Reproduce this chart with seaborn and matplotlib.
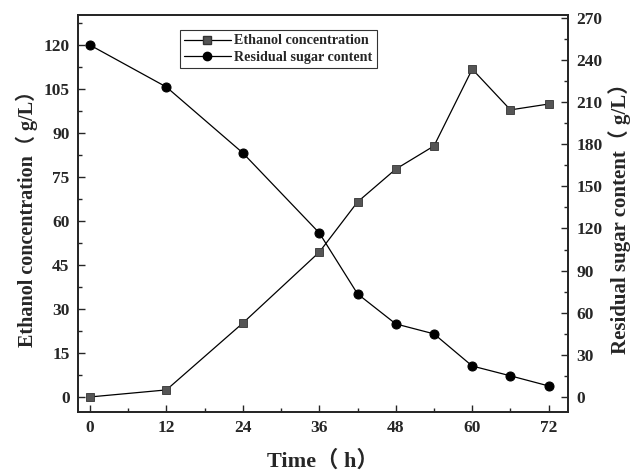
import numpy as np
import pandas as pd
import matplotlib
matplotlib.use("Agg")
import matplotlib.pyplot as plt
from matplotlib.ticker import MultipleLocator
from matplotlib.lines import Line2D
import seaborn as sns

# data
time_h = [0, 12, 24, 36, 42, 48, 54, 60, 66, 72]
ethanol = [0.0, 2.4, 25.2, 49.4, 66.5, 77.7, 85.6, 111.8, 97.9, 99.9]
sugar = [250.7, 220.8, 173.8, 116.8, 73.4, 52.0, 44.9, 22.0, 15.0, 7.8]

df = pd.DataFrame({"time": time_h, "ethanol": ethanol, "sugar": sugar})

sns.set_style("ticks")
plt.rcParams["font.family"] = ["Liberation Serif", "Noto Sans CJK SC", "DejaVu Sans"]
plt.rcParams["font.weight"] = "bold"
plt.rcParams["xtick.direction"] = "in"
plt.rcParams["ytick.direction"] = "in"

fig = plt.figure(figsize=(6.33, 4.74), dpi=100)
ax = fig.add_axes([0.123, 0.131, 0.774, 0.837])
ax2 = ax.twinx()

sns.lineplot(data=df, x="time", y="ethanol", ax=ax, color="black", lw=0.9,
             marker="s", markersize=5.5, markerfacecolor="#555555",
             markeredgecolor="#333333", markeredgewidth=0.6)
sns.lineplot(data=df, x="time", y="sugar", ax=ax2, color="black", lw=0.9,
             marker="o", markersize=6.5, markerfacecolor="black",
             markeredgecolor="black")

ax.set_xlim(-1.9, 75)
ax.set_ylim(-5.1, 130.2)
ax2.set_ylim(-10.7, 272)

ax.xaxis.set_major_locator(MultipleLocator(12))
ax.xaxis.set_minor_locator(MultipleLocator(6))
ax.yaxis.set_major_locator(MultipleLocator(15))
ax.yaxis.set_minor_locator(MultipleLocator(7.5))
ax2.yaxis.set_major_locator(MultipleLocator(30))
ax2.yaxis.set_minor_locator(MultipleLocator(15))

for a in (ax, ax2):
    a.tick_params(which="major", length=5, width=1, labelsize=12.5, pad=6)
    a.tick_params(which="minor", length=3, width=1)
    for s in a.spines.values():
        s.set_linewidth(1.3)
        s.set_visible(True)
    for lab in a.get_xticklabels() + a.get_yticklabels():
        lab.set_fontweight("bold")

ax.set_xlabel("Time（ h）", fontsize=16, fontweight="bold", labelpad=10)
ax.set_ylabel("Ethanol concentration（ g/L）", fontsize=14.5, fontweight="bold", labelpad=4)
ax2.set_ylabel("Residual sugar content（ g/L）", fontsize=15, fontweight="bold", labelpad=4)

handles = [
    Line2D([], [], color="black", lw=0.9, marker="s", markersize=5.5,
           markerfacecolor="#555555", markeredgecolor="#333333"),
    Line2D([], [], color="black", lw=0.9, marker="o", markersize=6,
           markerfacecolor="black"),
]
leg = ax.legend(handles, ["Ethanol concentration", "Residual sugar content"],
                loc="upper left", bbox_to_anchor=(0.208, 0.962), fontsize=10.2,
                frameon=True, fancybox=False, edgecolor="black",
                handlelength=3.3, borderpad=0.3, labelspacing=0.25,
                handletextpad=0.25, borderaxespad=0)
leg.get_frame().set_linewidth(0.8)

fig.savefig("out.png", dpi=100)
